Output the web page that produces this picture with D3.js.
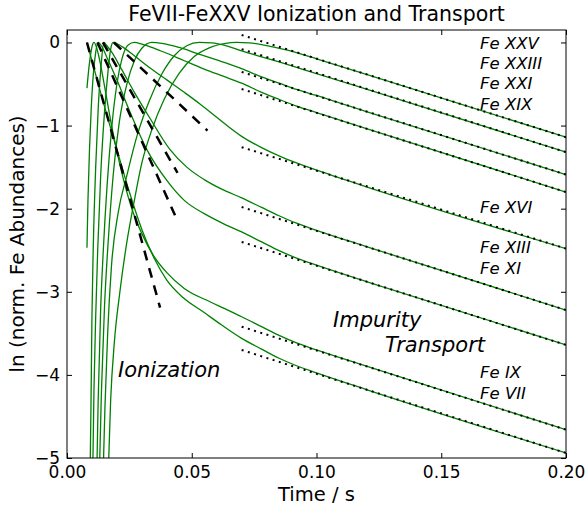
<!DOCTYPE html>
<html><head><meta charset="utf-8">
<script src="https://cdn.jsdelivr.net/npm/d3@7"></script>
<style>
body{margin:0;background:#fff;}
svg text{font-family:"DejaVu Sans",sans-serif;fill:#000;}
</style></head>
<body><svg id="c" width="586" height="508"></svg>
<script>
// ---- data ----
const ions = ["VII","IX","XI","XIII","XVI","XIX","XXI","XXIII","XXV"];
const xTicks = [0.00,0.05,0.10,0.15,0.20];
const yTicks = [0,-1,-2,-3,-4,-5];
// green model curves: [time, ln abundance]
const curveVII  = [[0.008,0],[0.011,-0.33],[0.014,-0.66],[0.017,-0.98],[0.02,-1.29],[0.025,-1.8],[0.03,-2.25],[0.035,-2.6],[0.04,-2.86],[0.0465,-3.07],[0.055,-3.25],[0.062,-3.4],[0.07,-3.56],[0.078,-3.69],[0.085,-3.8],[0.092,-3.89],[0.1,-3.975],[0.12,-4.177],[0.2,-4.94]];
const curveIX   = [[0.008,-0.55],[0.0088,-0.3],[0.0096,-0.12],[0.0103,-0.02],[0.0108,0],[0.0115,-0.03],[0.013,-0.2],[0.015,-0.52],[0.018,-1.02],[0.0224,-1.62],[0.026,-2.0],[0.03,-2.3],[0.035,-2.58],[0.04,-2.77],[0.047,-2.96],[0.0573,-3.12],[0.063,-3.2],[0.07,-3.3],[0.078,-3.42],[0.085,-3.525],[0.092,-3.615],[0.1,-3.7],[0.12,-3.895],[0.2,-4.66]];
const curveXI   = [[0.008,-2.47],[0.0084,-1.9],[0.009,-1.3],[0.0097,-0.8],[0.0105,-0.4],[0.0115,-0.12],[0.0125,0],[0.014,-0.05],[0.016,-0.18],[0.02,-0.45],[0.025,-0.82],[0.032,-1.29],[0.04,-1.66],[0.047,-1.9],[0.055,-2.06],[0.062,-2.17],[0.07,-2.28],[0.078,-2.4],[0.085,-2.505],[0.092,-2.595],[0.1,-2.68],[0.12,-2.877],[0.2,-3.64]];
const curveXIII = [[0.0092,-5.3],[0.0096,-4.4],[0.01,-3.3],[0.0105,-2.5],[0.0115,-1.5],[0.0125,-0.8],[0.0136,-0.3],[0.0148,0],[0.016,-0.04],[0.018,-0.12],[0.022,-0.33],[0.027,-0.6],[0.033,-0.9],[0.0413,-1.29],[0.048,-1.5],[0.055,-1.65],[0.062,-1.765],[0.07,-1.87],[0.078,-1.985],[0.085,-2.085],[0.092,-2.175],[0.1,-2.26],[0.12,-2.457],[0.2,-3.22]];
const curveXVI  = [[0.0102,-5.4],[0.0108,-4.2],[0.0115,-3.3],[0.0123,-2.5],[0.0135,-1.6],[0.015,-0.85],[0.0165,-0.33],[0.0175,-0.08],[0.0185,0],[0.022,-0.05],[0.027,-0.16],[0.033,-0.3],[0.04,-0.45],[0.047,-0.6],[0.0533,-0.74],[0.06,-0.9],[0.065,-1.02],[0.07,-1.13],[0.078,-1.265],[0.085,-1.365],[0.092,-1.45],[0.1,-1.537],[0.11,-1.637],[0.12,-1.737],[0.2,-2.48]];
const curveXIX  = [[0.0118,-5.4],[0.0125,-4.3],[0.0135,-3.2],[0.01455,-2.5],[0.016,-1.75],[0.018,-1.0],[0.02,-0.5],[0.022,-0.2],[0.0245,-0.03],[0.027,0],[0.03,-0.02],[0.035,-0.07],[0.04,-0.13],[0.047,-0.22],[0.055,-0.32],[0.062,-0.4],[0.07,-0.49],[0.078,-0.6],[0.085,-0.685],[0.092,-0.765],[0.1,-0.843],[0.11,-0.94],[0.12,-1.037],[0.2,-1.8]];
const curveXXI  = [[0.0128,-5.4],[0.0138,-4.2],[0.015,-3.2],[0.0165,-2.4],[0.0185,-1.6],[0.021,-0.95],[0.024,-0.5],[0.027,-0.22],[0.03,-0.07],[0.034,0],[0.038,-0.01],[0.045,-0.06],[0.052,-0.13],[0.06,-0.21],[0.065,-0.26],[0.07,-0.315],[0.078,-0.415],[0.085,-0.49],[0.092,-0.565],[0.1,-0.638],[0.11,-0.735],[0.12,-0.832],[0.2,-1.59]];
const curveXXIII= [[0.0143,-5.4],[0.0152,-4.4],[0.0163,-3.5],[0.0178,-2.7],[0.0205,-2.05],[0.024,-1.6],[0.028,-1.13],[0.033,-0.7],[0.038,-0.38],[0.043,-0.16],[0.048,-0.04],[0.053,0],[0.058,-0.005],[0.064,-0.04],[0.07,-0.1],[0.078,-0.172],[0.085,-0.235],[0.092,-0.3],[0.1,-0.374],[0.11,-0.467],[0.12,-0.56],[0.2,-1.32]];
const curveXXV  = [[0.0163,-5.4],[0.0175,-4.3],[0.019,-3.6],[0.0212,-3.0],[0.024,-2.4],[0.027,-1.9],[0.03,-1.45],[0.034,-1.05],[0.039,-0.68],[0.045,-0.37],[0.051,-0.17],[0.057,-0.065],[0.063,-0.015],[0.068,0],[0.073,-0.005],[0.078,-0.025],[0.083,-0.055],[0.088,-0.09],[0.093,-0.13],[0.1,-0.196],[0.12,-0.385],[0.2,-1.14]];
const greenCurves = [curveVII,curveIX,curveXI,curveXIII,curveXVI,curveXIX,curveXXI,curveXXIII,curveXXV];
// transport fits (dotted): value at t=0.07 and at t=0.20
const transportT = [0.07, 0.20];
const transportStart = [-3.70,-3.42,-2.40,-1.98,-1.26,-0.56,-0.355,-0.08,0.09];
const transportEnd   = [-4.94,-4.66,-3.64,-3.22,-2.48,-1.80,-1.59,-1.32,-1.14];
// ionization fits (dashed): [t0, v0, t1, v1]
const ionizFits = [[0.008,0,0.0373,-3.19],[0.0122,0,0.0433,-2.08],[0.0144,0,0.0443,-1.57],[0.0188,0,0.0563,-1.06]];
// labels
const labelNames = ["Fe XXV","Fe XXIII","Fe XXI","Fe XIX","Fe XVI","Fe XIII","Fe XI","Fe IX","Fe VII"];
const labelBaseY = [48.5,68.5,88.5,109.5,213,253,273.5,377.5,398.5];

// ---- layout ----
const svg = d3.select("#c");
const L=67,R=566,T=30,B=458;
const x = d3.scaleLinear().domain([0,0.2]).range([L,R]);
const y = d3.scaleLinear().domain([-5,0.15]).range([B,T]);

svg.append("defs").append("clipPath").attr("id","clip").append("rect")
  .attr("x",L).attr("y",T).attr("width",R-L).attr("height",B-T);
const g = svg.append("g").attr("clip-path","url(#clip)");

const line = d3.line().x(d=>x(d[0])).y(d=>y(d[1])).curve(d3.curveMonotoneX);
greenCurves.forEach(c=>{
  g.append("path").attr("d",line(c)).attr("fill","none").attr("stroke","#008000").attr("stroke-width",1.3);
});
const straight = d3.line().x(d=>x(d[0])).y(d=>y(d[1]));
transportStart.forEach((v,i)=>{
  g.append("path").attr("d",straight([[transportT[0],v],[transportT[1],transportEnd[i]]]))
   .attr("fill","none").attr("stroke","#000").attr("stroke-width",2).attr("stroke-dasharray","2,4.5");
});
ionizFits.forEach(f=>{
  g.append("path").attr("d",straight([[f[0],f[1]],[f[2],f[3]]]))
   .attr("fill","none").attr("stroke","#000").attr("stroke-width",2.5).attr("stroke-dasharray","10,8");
});

// frame
svg.append("rect").attr("x",L).attr("y",T).attr("width",R-L).attr("height",B-T)
  .attr("fill","none").attr("stroke","#000").attr("stroke-width",1);

// axes with inward ticks
const fs = 17;
const xb = svg.append("g").attr("transform",`translate(0,${B})`)
  .call(d3.axisBottom(x).tickValues(xTicks).tickFormat(d3.format(".2f")).tickSizeInner(-5).tickSizeOuter(0).tickPadding(8));
const xt = svg.append("g").attr("transform",`translate(0,${T})`)
  .call(d3.axisTop(x).tickValues(xTicks).tickFormat("").tickSizeInner(-5).tickSizeOuter(0));
const yl = svg.append("g").attr("transform",`translate(${L},0)`)
  .call(d3.axisLeft(y).tickValues(yTicks).tickFormat(d=>d<0?"\u2212"+Math.abs(d):d).tickSizeInner(-5).tickSizeOuter(0).tickPadding(7));
const yr = svg.append("g").attr("transform",`translate(${R},0)`)
  .call(d3.axisRight(y).tickValues(yTicks).tickFormat("").tickSizeInner(-5).tickSizeOuter(0));
[xb,xt,yl,yr].forEach(a=>{a.select(".domain").remove();
  a.selectAll("text").style("font-family","DejaVu Sans").style("font-size",fs+"px");
  a.selectAll("line").attr("stroke","#000");});

// labels
labelNames.forEach((n,i)=>{
  svg.append("text").attr("x",480).attr("y",labelBaseY[i])
    .style("font-style","italic").style("font-size","16.5px").text(n);
});
svg.append("text").attr("x",333).attr("y",327).style("font-style","italic").style("font-size","21px").text("Impurity");
svg.append("text").attr("x",385).attr("y",352).style("font-style","italic").style("font-size","21px").text("Transport");
svg.append("text").attr("x",118).attr("y",377).style("font-style","italic").style("font-size","21px").text("Ionization");

svg.append("text").attr("x",(L+R)/2).attr("y",21).attr("text-anchor","middle").style("font-size","20.5px")
  .text("FeVII-FeXXV Ionization and Transport");
svg.append("text").attr("x",(L+R)/2).attr("y",501).attr("text-anchor","middle").style("font-size","19.5px").text("Time / s");
svg.append("text").attr("transform",`translate(24,${(T+B)/2}) rotate(-90)`).attr("text-anchor","middle")
  .style("font-size","20px").text("ln (norm. Fe Abundances)");
</script></body></html>
